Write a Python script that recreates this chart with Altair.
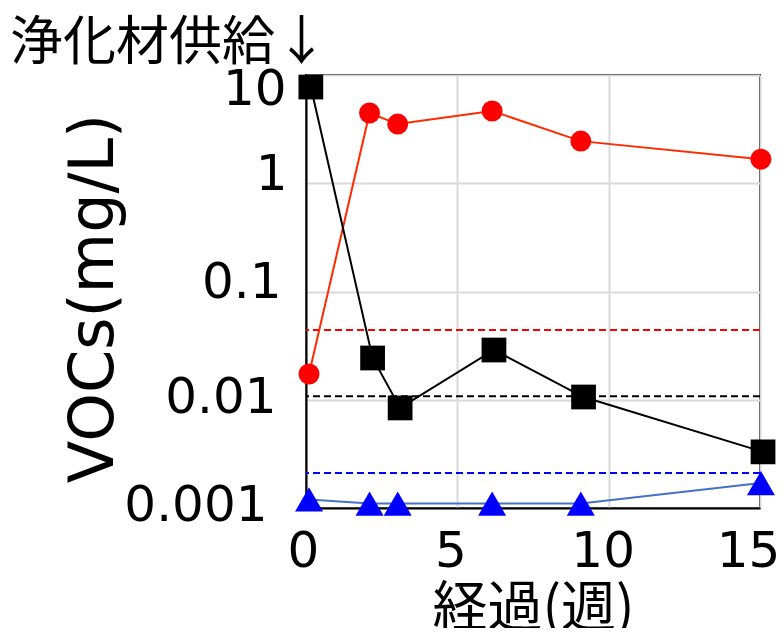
import altair as alt
import pandas as pd

# --- data ---
weeks_red = [0.1, 2.1, 3.03, 6.15, 9.08, 15.03]
vals_red = [0.0173, 4.46, 3.52, 4.65, 2.45, 1.67]
weeks_black = [0.16, 2.2, 3.11, 6.21, 9.17, 15.1]
vals_black = [7.74, 0.0243, 0.0084, 0.0288, 0.0106, 0.0033]
weeks_blue = [0.1, 2.1, 3.03, 6.15, 9.08, 15.03]
vals_blue = [0.0012, 0.0011, 0.0011, 0.0011, 0.0011, 0.0017]

series_names = ["red", "black", "blue"]
threshold_vals = [0.044, 0.0108, 0.0021]

x_ticks = [0, 5, 10, 15]
y_ticks = [0.001, 0.01, 0.1, 1, 10]

rows = []
for name, xs, ys in [("red", weeks_red, vals_red),
                     ("black", weeks_black, vals_black),
                     ("blue", weeks_blue, vals_blue)]:
    for i, (xv, yv) in enumerate(zip(xs, ys)):
        rows.append({"series": name, "week": xv, "voc": yv, "order": i})
df = pd.DataFrame(rows)
thr = pd.DataFrame({"series": series_names, "voc": threshold_vals})

LATIN = "DejaVu Sans"
CJK = "Noto Sans CJK JP"

x_scale = alt.Scale(domain=[0, 15], nice=False, zero=False)
y_scale = alt.Scale(type="log", domain=[0.001, 10], nice=False)

x_axis = alt.Axis(
    values=x_ticks, title="経過(週)", titleFont=CJK, titleFontSize=55,
    titleFontWeight="normal", titleColor="black", titleBaseline="alphabetic",
    titleY=117, labelFont=LATIN, labelFontSize=50, labelColor="black",
    labelPadding=18, ticks=False, labelBaseline="top", labelFlush=False,
    labelOffset={"condition": [
        {"test": "datum.value == 0", "value": -3},
        {"test": "datum.value == 5", "value": -7},
        {"test": "datum.value == 10", "value": -6},
        {"test": "datum.value == 15", "value": -12}], "value": 0},
)
y_axis = alt.Axis(
    values=y_ticks, format="~g", title="VOCs(mg/L)", titleFont=LATIN,
    titleFontSize=62, titleFontWeight="normal", titleColor="black",
    titleBaseline="alphabetic", titleX=-194, titleY=223,
    labelFont=LATIN, labelFontSize=50, labelColor="black", ticks=False,
    labelAlign="right", labelBaseline="middle", labelFlush=False,
    labelPadding={"condition": [
        {"test": "datum.value == 10", "value": 20},
        {"test": "datum.value == 1", "value": 19},
        {"test": "datum.value == 0.1", "value": 25},
        {"test": "datum.value == 0.01", "value": 30},
        {"test": "datum.value == 0.001", "value": 39}], "value": 20},
    labelOffset={"condition": [
        {"test": "datum.value == 10", "value": 14},
        {"test": "datum.value == 1", "value": -9},
        {"test": "datum.value == 0.1", "value": -9},
        {"test": "datum.value == 0.01", "value": -2},
        {"test": "datum.value == 0.001", "value": -3}], "value": 0},
)

line_colors = alt.Scale(domain=series_names, range=["#ff2a00", "#000000", "#4472c4"])
point_colors = alt.Scale(domain=series_names, range=["#ff0000", "#000000", "#0000ff"])
shapes = alt.Scale(domain=series_names, range=["circle", "square", "triangle-up"])
sizes = alt.Scale(domain=series_names, range=[441, 784, 576])
thr_colors = alt.Scale(domain=series_names, range=["#ff0000", "#000000", "#0000ff"])

base = alt.Chart(df)

rules = alt.Chart(thr).mark_rule(strokeWidth=2, strokeDash=[7, 4]).encode(
    y=alt.Y("voc:Q", scale=y_scale, axis=y_axis),
    color=alt.Color("series:N", scale=thr_colors, legend=None),
)

lines = base.mark_line(strokeWidth=2).encode(
    x=alt.X("week:Q", scale=x_scale, axis=x_axis),
    y=alt.Y("voc:Q", scale=y_scale, axis=y_axis),
    color=alt.Color("series:N", scale=line_colors, legend=None),
    detail="series:N",
    order="order:Q",
)

points = base.mark_point(filled=True, opacity=1).encode(
    x=alt.X("week:Q", scale=x_scale, axis=x_axis),
    y=alt.Y("voc:Q", scale=y_scale, axis=y_axis),
    fill=alt.Fill("series:N", scale=point_colors, legend=None),
    shape=alt.Shape("series:N", scale=shapes, legend=None),
    size=alt.Size("series:N", scale=sizes, legend=None),
)

chart = alt.layer(rules, lines, points).resolve_scale(color="independent").properties(
    width=454, height=433,
    autosize=alt.AutoSizeParams(type="none"),
    padding={"left": 298, "top": 67, "right": 16, "bottom": 120},
    title=alt.TitleParams(text="浄化材供給↓", anchor="start", frame="group",
                          dx=-296, dy=19, fontSize=53, font=CJK, fontWeight="normal",
                          color="black", offset=12),
).configure(background="white").configure_view(
    stroke="black", strokeWidth=2
).configure_axis(
    domainColor="black", domainWidth=2, gridColor="#d9d9d9", gridWidth=2,
)

chart.save("out.html", embed_options={"renderer": "svg", "actions": False})
